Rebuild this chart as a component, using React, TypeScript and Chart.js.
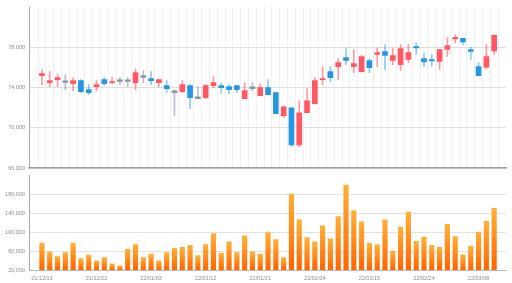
import React, { useEffect, useRef } from 'react';
import { Chart, registerables } from 'chart.js';

Chart.register(...registerables);

const dates = [
  '21/12/13', '21/12/14', '21/12/15', '21/12/16', '21/12/17', '21/12/20', '21/12/21', '21/12/22', '21/12/23', '21/12/24',
  '21/12/27', '21/12/28', '21/12/29', '21/12/30', '22/01/03', '22/01/04', '22/01/05', '22/01/06', '22/01/07', '22/01/10',
  '22/01/11', '22/01/12', '22/01/13', '22/01/14', '22/01/17', '22/01/18', '22/01/19', '22/01/20', '22/01/21', '22/01/24',
  '22/01/25', '22/01/26', '22/01/27', '22/01/28', '22/02/03', '22/02/04', '22/02/07', '22/02/08', '22/02/09', '22/02/10',
  '22/02/11', '22/02/14', '22/02/15', '22/02/16', '22/02/17', '22/02/18', '22/02/21', '22/02/22', '22/02/23', '22/02/24',
  '22/02/25', '22/02/28', '22/03/02', '22/03/03', '22/03/04', '22/03/07', '22/03/08', '22/03/10', '22/03/11',
];

const opens = [
  75200, 74500, 74800, 74600, 74400, 74700, 73800, 74100, 74800, 74500,
  74700, 74700, 74500, 75100, 74900, 74500, 74200, 73600, 73600, 74200,
  73000, 73000, 74200, 74200, 74100, 74200, 72900, 74000, 73200, 74000,
  73500, 71200, 72000, 68300, 71500, 72400, 74800, 75600, 76100, 77000,
  76100, 75600, 76700, 77300, 77600, 76700, 76300, 76800, 78100, 76900,
  76800, 76600, 77800, 78850, 78900, 77800, 76100, 76050, 77650,
];
const highs = [
  75800, 75600, 75300, 75300, 75000, 74800, 74300, 74700, 75000, 75000,
  75000, 75000, 75900, 75700, 75600, 74800, 74700, 73800, 74700, 74300,
  74100, 74300, 75100, 74500, 74300, 74200, 74500, 74500, 74400, 74800,
  73500, 72200, 72000, 72700, 73900, 75000, 76100, 76100, 76900, 77950,
  77800, 77200, 76900, 77950, 78300, 77900, 78300, 78300, 78450, 77400,
  77300, 77800, 78950, 79250, 78900, 78050, 76500, 78300, 79250,
];
const lows = [
  74300, 74100, 74100, 73800, 73700, 73500, 73300, 73700, 74200, 74400,
  74300, 74100, 73800, 74500, 74300, 74100, 73500, 71200, 73500, 71900,
  72900, 72900, 74000, 73400, 73400, 73500, 72900, 73700, 73200, 73300,
  71400, 71000, 68150, 68100, 71500, 72400, 74300, 74600, 74800, 76300,
  75500, 75600, 75500, 76100, 75800, 76300, 75700, 76500, 77300, 76100,
  76150, 75800, 77100, 78450, 78250, 76800, 75200, 75900, 77300,
];
const closes = [
  75400, 74700, 75000, 74600, 74700, 73600, 73500, 74300, 74400, 74600,
  74700, 74700, 75500, 75100, 74700, 74800, 73900, 73600, 74300, 73000,
  73000, 74200, 74500, 74000, 73800, 73800, 73700, 74000, 74000, 73300,
  71400, 72100, 68300, 71500, 72700, 74700, 74900, 75000, 76500, 76700,
  76400, 77100, 76000, 77500, 77200, 77200, 77900, 77500, 77950, 76550,
  76650, 77800, 78200, 79000, 78550, 77600, 75200, 77100, 79200,
];
const volumes = [
  77000, 58400, 48100, 57000, 77000, 44000, 51500, 39200, 46000, 32300,
  28900, 63900, 73500, 46000, 53600, 39200, 57000, 66000, 68000, 72200,
  50200, 73500, 96900, 55700, 79700, 57000, 92100, 58400, 53600, 99000,
  84500, 46000, 180100, 125800, 88700, 79700, 113400, 85900, 132600, 199300,
  145700, 121700, 76300, 73500, 125800, 59800, 110700, 142300, 80400, 89300,
  72200, 68000, 116200, 90700, 52200, 70100, 99700, 123000, 150500,
];

const priceTicks = [66000, 70000, 74000, 78000];
const priceMax = 82000;
const volumeTicks = [20000, 60000, 100000, 140000, 180000];
const volumeMax = 220000;
const labelEvery = 7;

export default function App() {
  const topRef = useRef<HTMLCanvasElement>(null);
  const botRef = useRef<HTMLCanvasElement>(null);

  useEffect(() => {
    const font = { family: '"Liberation Sans", Arial, sans-serif', size: 5.5 };
    const tickColor = '#8c8c8c';
    const idx = dates.map((_, i) => i);
    const kind = (i: number) => (closes[i] > opens[i] ? 'up' : closes[i] < opens[i] ? 'down' : 'flat');
    const bodyCol: any = { up: '#ff5763', down: '#2497e3', flat: '#8a95a6' };
    const wickCol: any = { up: 'rgba(255,87,99,0.6)', down: 'rgba(36,151,227,0.5)', flat: 'rgba(138,149,166,0.6)' };

    const xBase = () => ({
      type: 'linear' as const,
      min: -1.14,
      max: 59,
      afterBuildTicks: (s: any) => {
        s.ticks = idx.map((v) => ({ value: v }));
      },
    });

    const top = new Chart(topRef.current!, {
      type: 'bar',
      data: {
        datasets: [
          {
            data: idx.map((i) => {
              const lo = Math.min(opens[i], closes[i]);
              const hi = Math.max(opens[i], closes[i]);
              return { x: i, y: lo === hi ? [lo - 90, hi + 90] : [lo, hi] };
            }) as any,
            backgroundColor: idx.map((i) => bodyCol[kind(i)]),
            barThickness: 5,
            grouped: false,
          },
          {
            data: idx.map((i) => ({ x: i, y: [lows[i], highs[i]] })) as any,
            backgroundColor: idx.map((i) => wickCol[kind(i)]),
            barThickness: 1,
            grouped: false,
          },
        ],
      },
      options: {
        animation: false,
        responsive: false,
        maintainAspectRatio: false,
        layout: { padding: { left: 0, right: 6, top: 6, bottom: 10 } },
        plugins: { legend: { display: false }, tooltip: { enabled: false } },
        scales: {
          x: {
            ...xBase(),
            afterFit: (s: any) => {
              s.height = 0;
            },
            grid: { color: '#f0f0f0', lineWidth: 1, drawTicks: false },
            border: { display: true, color: '#a0a0a0', width: 1.5 },
            ticks: { display: false },
          },
          y: {
            min: priceTicks[0],
            max: priceMax,
            afterBuildTicks: (s: any) => {
              s.ticks = priceTicks.map((v) => ({ value: v }));
            },
            afterFit: (s: any) => {
              s.width = 29;
            },
            grid: { color: '#dedede', lineWidth: 1, drawTicks: false },
            border: { display: true, color: '#a8a8a8', width: 1 },
            ticks: {
              font,
              color: tickColor,
              padding: 4,
              callback: (v: any) => Number(v).toLocaleString('en-US'),
            },
          },
        },
      },
    } as any);

    const bot = new Chart(botRef.current!, {
      type: 'bar',
      data: {
        datasets: [
          {
            data: idx.map((i) => ({ x: i, y: volumes[i] })) as any,
            backgroundColor: (c: any) => {
              const chart = c.chart;
              if (!chart.chartArea || !c.parsed || c.type !== 'data') return '#ff8a1f';
              const ys = chart.scales.y;
              const t = ys.getPixelForValue(c.parsed.y);
              const b = ys.getPixelForValue(ys.min);
              const g = chart.ctx.createLinearGradient(0, t, 0, b);
              g.addColorStop(0, '#ffb038');
              g.addColorStop(1, '#ff6400');
              return g;
            },
            barThickness: 4.5,
            grouped: false,
          },
        ],
      },
      options: {
        animation: false,
        responsive: false,
        maintainAspectRatio: false,
        layout: { padding: { left: 0, right: 6, top: 5, bottom: 0 } },
        plugins: { legend: { display: false }, tooltip: { enabled: false } },
        scales: {
          x: {
            ...xBase(),
            afterFit: (s: any) => {
              s.height = 13;
            },
            grid: { display: false, drawTicks: false },
            border: { display: true, color: '#b8b8b8', width: 1 },
            ticks: {
              font,
              color: tickColor,
              padding: 5,
              autoSkip: false,
              maxRotation: 0,
              minRotation: 0,
              callback: (v: any) => (Number(v) % labelEvery === 0 ? dates[Number(v)] : ''),
            },
          },
          y: {
            min: volumeTicks[0],
            max: volumeMax,
            afterBuildTicks: (s: any) => {
              s.ticks = volumeTicks.map((v) => ({ value: v }));
            },
            afterFit: (s: any) => {
              s.width = 29;
            },
            grid: { color: '#e2e2e2', lineWidth: 1, drawTicks: false },
            border: { display: true, color: '#a8a8a8', width: 1 },
            ticks: {
              font,
              color: tickColor,
              padding: 4,
              callback: (v: any) => Number(v).toLocaleString('en-US'),
            },
          },
        },
      },
    } as any);

    return () => {
      top.destroy();
      bot.destroy();
    };
  }, []);

  return (
    <div style={{ position: 'fixed', left: 0, top: 0, width: 512, height: 283, background: '#fff' }}>
      <canvas ref={topRef} width={512} height={178} style={{ position: 'absolute', left: 0, top: 0, width: 512, height: 178 }} />
      <canvas ref={botRef} width={512} height={115} style={{ position: 'absolute', left: 0, top: 168, width: 512, height: 115 }} />
    </div>
  );
}
